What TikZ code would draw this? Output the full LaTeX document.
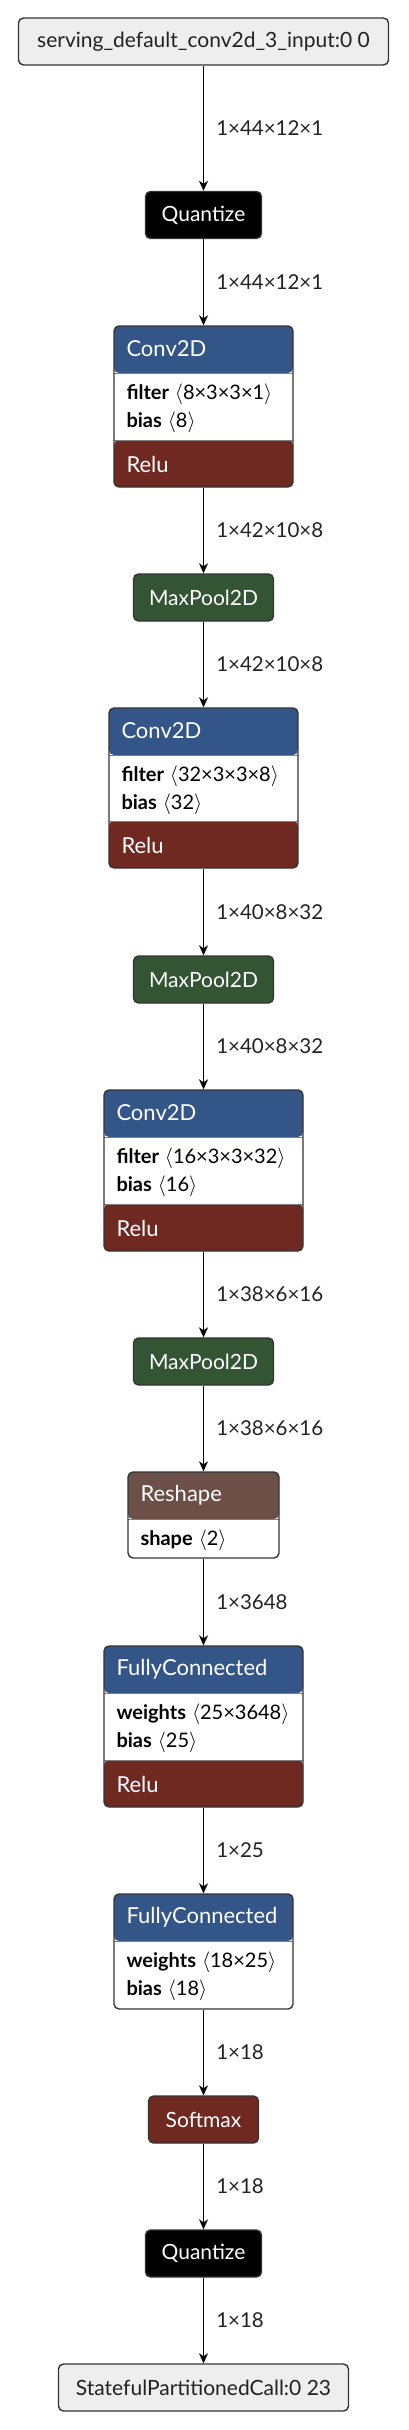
\documentclass[tikz,border=0pt]{standalone}
\usepackage{fontspec}
\setmainfont{Lato}
\usetikzlibrary{arrows.meta,positioning}
\definecolor{layerblue}{RGB}{51,85,136}
\definecolor{actred}{RGB}{112,41,33}
\definecolor{poolgreen}{RGB}{51,85,51}
\definecolor{shapebrown}{RGB}{108,79,71}
\definecolor{framegray}{RGB}{51,51,51}
\definecolor{sepgray}{RGB}{128,128,128}
\definecolor{iofill}{RGB}{238,238,238}
\definecolor{labelgray}{RGB}{34,34,34}
\newcommand\attr[2]{\textbf{#1}\hspace{6pt}$\langle$#2$\rangle$}
\begin{document}
\begin{tikzpicture}[x=1pt, y=-1pt,
  frame/.style={draw=framegray, line width=1.4pt, rounded corners=5pt, inner sep=0pt, minimum height=47pt},
  opnode/.style={frame, fill=#1, text=white, font=\fontsize{21}{25}\selectfont},
  ionode/.style={frame, fill=iofill, text=labelgray, font=\fontsize{21}{25}\selectfont},
  tri/.style={frame, fill=white, path picture={
    \fill[layerblue] (path picture bounding box.north west) rectangle ([yshift=-47pt]path picture bounding box.north east);
    \fill[actred] (path picture bounding box.south west) rectangle ([yshift=47pt]path picture bounding box.south east);
    \draw[sepgray, line width=1pt] ([yshift=-47pt]path picture bounding box.north west) -- ([yshift=-47pt]path picture bounding box.north east);
    \draw[sepgray, line width=1pt] ([yshift=47pt]path picture bounding box.south west) -- ([yshift=47pt]path picture bounding box.south east);
  }},
  duo/.style={frame, fill=white, path picture={
    \fill[#1] (path picture bounding box.north west) rectangle ([yshift=-47pt]path picture bounding box.north east);
    \draw[sepgray, line width=1pt] ([yshift=-47pt]path picture bounding box.north west) -- ([yshift=-47pt]path picture bounding box.north east);
  }},
  headtext/.style={anchor=west, inner sep=0pt, text=white, font=\fontsize{22}{26}\selectfont},
  attrtext/.style={anchor=west, inner sep=0pt, text=black, font=\fontsize{20}{24}\selectfont},
  edge/.style={line width=1.5pt, -{Stealth[length=10pt, width=9pt, inset=3pt]}},
  shapelabel/.style={right=12pt, inner sep=0pt, text=labelgray, font=\fontsize{20.5}{24}\selectfont}]
\useasboundingbox (0,0) rectangle (408,2430);
% nodes
\node[ionode, minimum width=370pt] (inp) at (203.5,41.5) {serving\_default\_conv2d\_3\_input:0 0};
\node[opnode=black, minimum width=116pt] (q1) at (203.5,215) {Quantize};
\node[tri, minimum width=179pt, minimum height=161pt] (conv1) at (203.5,406.5) {};
\node[opnode=poolgreen, minimum width=140pt] (mp1) at (203.5,597.5) {MaxPool2D};
\node[tri, minimum width=189pt, minimum height=160pt] (conv2) at (203.5,788) {};
\node[opnode=poolgreen, minimum width=140pt] (mp2) at (203.5,979.5) {MaxPool2D};
\node[tri, minimum width=199pt, minimum height=161pt] (conv3) at (203.5,1170.5) {};
\node[opnode=poolgreen, minimum width=140pt] (mp3) at (203.5,1361.5) {MaxPool2D};
\node[duo=shapebrown, minimum width=151pt, minimum height=86pt] (resh) at (203.5,1515) {};
\node[tri, minimum width=199pt, minimum height=161pt] (fc1) at (203.5,1726.5) {};
\node[duo=layerblue, minimum width=179pt, minimum height=115pt] (fc2) at (203.5,1951.5) {};
\node[opnode=actred, minimum width=110pt] (soft) at (203.5,2119.5) {Softmax};
\node[opnode=black, minimum width=116pt] (q2) at (203.5,2253.5) {Quantize};
\node[ionode, minimum width=290pt] (out) at (203.5,2387.5) {StatefulPartitionedCall:0 23};
% block texts
\node[headtext] (conv1h) at ([xshift=13pt, yshift=-23.5pt]conv1.north west) {Conv2D};
\node[attrtext] (conv1f) at ([xshift=13pt, yshift=-69pt]conv1.north west) {\attr{filter}{8×3×3×1}};
\node[attrtext] (conv1b) at ([xshift=13pt, yshift=-97pt]conv1.north west) {\attr{bias}{8}};
\node[headtext] (conv1a) at ([xshift=13pt, yshift=23.5pt]conv1.south west) {Relu};
\node[headtext] (conv2h) at ([xshift=13pt, yshift=-23.5pt]conv2.north west) {Conv2D};
\node[attrtext] (conv2f) at ([xshift=13pt, yshift=-69pt]conv2.north west) {\attr{filter}{32×3×3×8}};
\node[attrtext] (conv2b) at ([xshift=13pt, yshift=-97pt]conv2.north west) {\attr{bias}{32}};
\node[headtext] (conv2a) at ([xshift=13pt, yshift=23.5pt]conv2.south west) {Relu};
\node[headtext] (conv3h) at ([xshift=13pt, yshift=-23.5pt]conv3.north west) {Conv2D};
\node[attrtext] (conv3f) at ([xshift=13pt, yshift=-69pt]conv3.north west) {\attr{filter}{16×3×3×32}};
\node[attrtext] (conv3b) at ([xshift=13pt, yshift=-97pt]conv3.north west) {\attr{bias}{16}};
\node[headtext] (conv3a) at ([xshift=13pt, yshift=23.5pt]conv3.south west) {Relu};
\node[headtext] (reshh) at ([xshift=13pt, yshift=-23.5pt]resh.north west) {Reshape};
\node[attrtext] (reshs) at ([xshift=13pt, yshift=-69pt]resh.north west) {\attr{shape}{2}};
\node[headtext] (fc1h) at ([xshift=13pt, yshift=-23.5pt]fc1.north west) {FullyConnected};
\node[attrtext] (fc1w) at ([xshift=13pt, yshift=-69pt]fc1.north west) {\attr{weights}{25×3648}};
\node[attrtext] (fc1b) at ([xshift=13pt, yshift=-97pt]fc1.north west) {\attr{bias}{25}};
\node[headtext] (fc1a) at ([xshift=13pt, yshift=23.5pt]fc1.south west) {Relu};
\node[headtext] (fc2h) at ([xshift=13pt, yshift=-23.5pt]fc2.north west) {FullyConnected};
\node[attrtext] (fc2w) at ([xshift=13pt, yshift=-69pt]fc2.north west) {\attr{weights}{18×25}};
\node[attrtext] (fc2b) at ([xshift=13pt, yshift=-97pt]fc2.north west) {\attr{bias}{18}};
% edges
\draw[edge] (inp) -- node[shapelabel] {1×44×12×1} (q1);
\draw[edge] (q1) -- node[shapelabel] {1×44×12×1} (conv1);
\draw[edge] (conv1) -- node[shapelabel] {1×42×10×8} (mp1);
\draw[edge] (mp1) -- node[shapelabel] {1×42×10×8} (conv2);
\draw[edge] (conv2) -- node[shapelabel] {1×40×8×32} (mp2);
\draw[edge] (mp2) -- node[shapelabel] {1×40×8×32} (conv3);
\draw[edge] (conv3) -- node[shapelabel] {1×38×6×16} (mp3);
\draw[edge] (mp3) -- node[shapelabel] {1×38×6×16} (resh);
\draw[edge] (resh) -- node[shapelabel] {1×3648} (fc1);
\draw[edge] (fc1) -- node[shapelabel] {1×25} (fc2);
\draw[edge] (fc2) -- node[shapelabel] {1×18} (soft);
\draw[edge] (soft) -- node[shapelabel] {1×18} (q2);
\draw[edge] (q2) -- node[shapelabel] {1×18} (out);
\end{tikzpicture}
\end{document}
